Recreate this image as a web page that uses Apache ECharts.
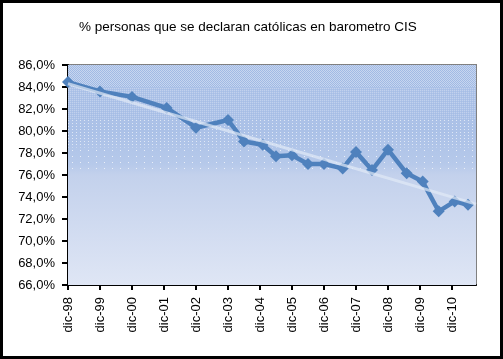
<!DOCTYPE html>
<html><head><meta charset="utf-8">
<script src="https://cdn.jsdelivr.net/npm/echarts@6/dist/echarts.min.js"></script>
<style>html,body{margin:0;padding:0;background:#fff}#c{width:503px;height:359px}</style>
</head><body><div id="c"></div>
<script>
// Survey dates (year-month) and % declaring themselves Catholic
const dates = ['1998-12','1999-12','2000-12','2002-01','2002-12','2003-12','2004-06','2005-01','2005-06','2005-12','2006-06','2006-12','2007-07','2007-12','2008-06','2008-12','2009-07','2010-01','2010-07','2011-01','2011-06'];
const values = [84.45, 83.6, 83.1, 82.1, 80.3, 81.0, 79.05, 78.75, 77.7, 77.8, 77.0, 77.0, 76.6, 78.1, 76.45, 78.3, 76.15, 75.4, 72.7, 73.6, 73.3];
// Linear trend line endpoints
const trendDates = ['1998-12','2011-09'];
const trendValues = [84.3, 73.35];
const xTickLabels = ['dic-98','dic-99','dic-00','dic-01','dic-02','dic-03','dic-04','dic-05','dic-06','dic-07','dic-08','dic-09','dic-10'];
const rSquaredText = 'R² = 0,922';
const titleText = '% personas que se declaran católicas en barometro CIS';

function monthIndex(s){ const p = s.split('-'); return (parseInt(p[0]) - 1998) * 12 + (parseInt(p[1]) - 12); }
const mainData = dates.map((d,i)=>[monthIndex(d), values[i]]);
const trendData = trendDates.map((d,i)=>[monthIndex(d), trendValues[i]]);
const tickVals = xTickLabels.map((_,i)=>i*12);
const xMax = monthIndex(trendDates[1]);

function makePattern(w, h, dots){
  const c = document.createElement('canvas'); c.width = w; c.height = h;
  const g = c.getContext('2d');
  dots.forEach(p=>{ g.fillStyle = p[2]; g.fillRect(p[0],p[1],1,1); });
  return {image: c, repeat: 'repeat'};
}
const patChecker = makePattern(2,2,[[0,0,'rgba(150,178,226,0.55)'],[1,1,'rgba(150,178,226,0.55)'],[1,0,'rgba(255,255,255,0.3)'],[0,1,'rgba(255,255,255,0.3)']]);
const patDense = makePattern(2,2,[[0,0,'rgba(255,255,255,0.25)'],[1,1,'rgba(150,178,226,0.3)']]);
const patMid = makePattern(4,3,[[0,0,'rgba(255,255,255,0.6)']]);
const patSparse = makePattern(8,6,[[0,0,'rgba(255,255,255,0.7)']]);

const font = '"Liberation Sans", Arial, sans-serif';
const chart = echarts.init(document.getElementById('c'), null, {renderer:'canvas'});
const yLineColors = ['#000','#000','#000','#000','#000','#000','#000','#000','#000','#000','#808080'];
chart.setOption({
  animation: false,
  backgroundColor: '#fff',
  title: { text: titleText, left: 74, top: 15, textStyle: { fontFamily: font, fontSize: 13.5, fontWeight: 'normal', color: '#000' } },
  grid: { left: 68, right: 27, top: 65, bottom: 74, show: true, backgroundColor: 'transparent', borderColor: '#808080', borderWidth: 2 },
  xAxis: {
    type: 'value', min: 0, max: xMax,
    axisLine: { show: true, onZero: false, lineStyle: { color: '#000', width: 2 } },
    axisTick: { show: true, length: 5, lineStyle: { color: '#000', width: 2 }, customValues: tickVals },
    axisLabel: { customValues: tickVals, rotate: 90, margin: 12, fontFamily: font, fontSize: 13, color: '#000',
      formatter: v => xTickLabels[Math.round(v/12)] || '' },
    splitLine: { show: false }
  },
  yAxis: {
    type: 'value', min: 66, max: 86, interval: 2,
    axisLine: { show: true, lineStyle: { color: '#000', width: 2 } },
    axisTick: { show: true, length: 6, lineStyle: { color: '#000', width: 2 } },
    axisLabel: { margin: 13, fontFamily: font, fontSize: 13, color: '#000', formatter: v => v.toFixed(1).replace('.', ',') + '%' },
    splitLine: { show: true, lineStyle: { color: yLineColors, width: 2 } }
  },
  series: [
    { type: 'line', z: -1, data: [], silent: true,
      markArea: { silent: true, data: [
        [{ yAxis: 86, itemStyle: { color: { type:'linear', x:0, y:0, x2:0, y2:1, colorStops: [
            {offset:0, color:'#b0c4e8'}, {offset:0.3, color:'#abc1e7'}, {offset:0.45, color:'#b6c9ea'},
            {offset:0.5, color:'#c3d1ec'}, {offset:1, color:'#dfe6f5'}] } } }, { yAxis: 66 }],
        [{ yAxis: 86, itemStyle: { color: patChecker } }, { yAxis: 84 }],
        [{ yAxis: 84, itemStyle: { color: patDense } }, { yAxis: 81 }],
        [{ yAxis: 81, itemStyle: { color: patMid } }, { yAxis: 78.5 }],
        [{ yAxis: 78.5, itemStyle: { color: patSparse } }, { yAxis: 76.5 }]
      ] } },
    { type: 'line', data: mainData, z: 3, symbol: 'diamond', symbolSize: 12,
      lineStyle: { color: '#4f81bd', width: 4.5 }, itemStyle: { color: '#4f81bd' } },
    { type: 'line', data: trendData, z: 4, symbol: 'none',
      lineStyle: { color: 'rgba(225,233,246,0.7)', width: 3 } }
  ],
  graphic: [
    { type: 'text', left: 207, top: 201, style: { text: rSquaredText, font: '13px ' + font, fill: '#000' } },
    { type: 'rect', shape: { x: 1.5, y: 1.5, width: 500, height: 356 }, style: { fill: 'none', stroke: '#000', lineWidth: 3 }, z: 100 }
  ]
});
</script></body></html>
